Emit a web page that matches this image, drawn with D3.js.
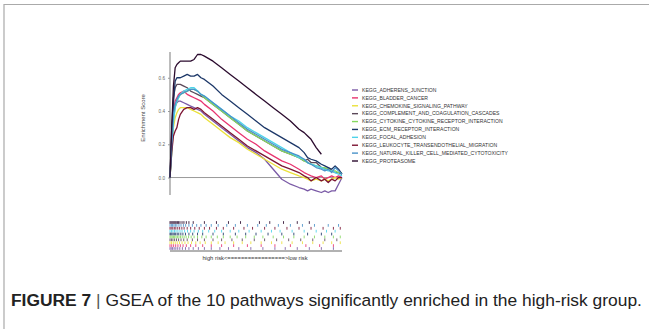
<!DOCTYPE html>
<html>
<head>
<meta charset="utf-8">
<script src="https://cdn.jsdelivr.net/npm/d3@7"></script>
<style>
  html, body { margin: 0; padding: 0; background: #fff; }
  svg { display: block; font-family: "Liberation Sans", Arial, sans-serif; }
</style>
</head>
<body>
<svg id="chart" width="649" height="329"></svg>
<script>
// gene rank positions (0 = top of ranked list, 100 = bottom)
const ranks = [0,1,2,3,4,5,6,8,10,12,14,16,18,20,25,30,35,40,45,50,55,60,65,70,75,78,80,82,85,88,90,92,94,96,98,100];

const pathways = [
  "KEGG_ADHERENS_JUNCTION",
  "KEGG_BLADDER_CANCER",
  "KEGG_CHEMOKINE_SIGNALING_PATHWAY",
  "KEGG_COMPLEMENT_AND_COAGULATION_CASCADES",
  "KEGG_CYTOKINE_CYTOKINE_RECEPTOR_INTERACTION",
  "KEGG_ECM_RECEPTOR_INTERACTION",
  "KEGG_FOCAL_ADHESION",
  "KEGG_LEUKOCYTE_TRANSENDOTHELIAL_MIGRATION",
  "KEGG_NATURAL_KILLER_CELL_MEDIATED_CYTOTOXICITY",
  "KEGG_PROTEASOME"
];
const colors = ["#7a5aa6","#e8336f","#ebe13a","#5b4858","#86d95f","#1c3768","#4dd3ea","#7c1433","#4a92c9","#2b0b2e"];

// running enrichment scores, one value per rank
const adherensES   = [0,0.2,0.38,0.43,0.45,0.46,0.46,0.45,0.44,0.43,0.42,0.41,0.4,0.38,0.34,0.3,0.26,0.22,0.18,0.15,0.11,0.05,-0.01,-0.04,-0.06,-0.07,-0.08,-0.07,-0.08,-0.09,-0.08,-0.09,-0.08,-0.08,-0.04,0.0];
const bladderES    = [0,0.2,0.4,0.46,0.48,0.5,0.51,0.52,0.5,0.49,0.48,0.47,0.46,0.44,0.4,0.35,0.31,0.27,0.23,0.2,0.16,0.13,0.1,0.08,0.05,0.03,0.02,0.01,0.0,0.01,-0.01,0.0,0.01,0.0,0.01,0.0];
const chemokineES  = [0,0.15,0.3,0.36,0.39,0.41,0.42,0.42,0.42,0.41,0.4,0.39,0.38,0.36,0.32,0.28,0.24,0.21,0.17,0.14,0.11,0.08,0.05,0.03,0.01,0.0,-0.01,-0.02,-0.01,-0.02,-0.01,-0.02,-0.01,0.0,-0.01,0.0];
const complementES = [0,0.3,0.48,0.54,0.56,0.56,0.56,0.55,0.54,0.52,0.51,0.5,0.49,0.48,0.44,0.4,0.36,0.32,0.28,0.25,0.22,0.19,0.16,0.14,0.12,0.1,0.11,0.09,0.09,0.06,0.05,0.06,0.04,0.03,0.03,0.02];
const cytokineES   = [0,0.2,0.35,0.42,0.46,0.48,0.5,0.51,0.52,0.53,0.53,0.52,0.5,0.48,0.44,0.4,0.36,0.32,0.28,0.25,0.22,0.19,0.16,0.14,0.12,0.1,0.09,0.08,0.07,0.06,0.06,0.05,0.04,0.04,0.03,0.03];
const ecmES        = [0,0.25,0.45,0.58,0.6,0.6,0.6,0.61,0.62,0.61,0.61,0.62,0.6,0.59,0.55,0.5,0.46,0.42,0.38,0.34,0.3,0.27,0.24,0.21,0.18,0.15,0.12,0.11,0.1,0.08,0.07,0.06,0.05,0.07,0.05,0.02];
const focalES      = [0,0.15,0.33,0.42,0.46,0.48,0.5,0.52,0.53,0.54,0.54,0.52,0.5,0.49,0.45,0.41,0.37,0.34,0.3,0.27,0.24,0.21,0.18,0.15,0.12,0.11,0.09,0.08,0.07,0.06,0.05,0.04,0.04,0.03,0.02,0.01];
const leukocyteES  = [0,0.15,0.25,0.28,0.3,0.35,0.38,0.41,0.42,0.42,0.41,0.42,0.41,0.39,0.35,0.31,0.27,0.23,0.19,0.16,0.13,0.1,0.07,0.05,0.03,0.01,0.0,-0.02,0.0,-0.02,-0.01,-0.03,-0.01,-0.02,0.0,0.0];
const nkES         = [0,0.2,0.38,0.44,0.47,0.49,0.5,0.51,0.52,0.53,0.53,0.52,0.5,0.49,0.45,0.41,0.37,0.33,0.29,0.26,0.23,0.2,0.17,0.15,0.13,0.11,0.09,0.08,0.06,0.05,0.04,0.05,0.03,0.06,0.04,0.02];
const proteasomeES = [0,0.3,0.55,0.66,0.68,0.69,0.7,0.7,0.7,0.7,0.71,0.74,0.74,0.73,0.7,0.66,0.62,0.58,0.54,0.5,0.46,0.42,0.38,0.34,0.29,0.27,0.25,0.23,0.18,0.14,null,null,null,null,null,null];

const esSeries = [adherensES, bladderES, chemokineES, complementES, cytokineES, ecmES, focalES, leukocyteES, nkES, proteasomeES];

// hit positions of each gene set along the ranked list
const adherensHits   = [0,0.7,1.5,2.4,3.4,4.5,5.7,7.2,9,11,13.5,16.5,20,24,29,34,40,47,54,61,67,74,81,88,95];
const bladderHits    = [0,1,2.1,3.3,4.6,6,7.6,9.5,12,15,19,24,30,37,45,53,61,70,79,87,95];
const chemokineHits  = [0,0.9,1.9,3,4.2,5.5,7,8.7,10.5,12.5,15,17.5,20.5,24,28,32,37,42,47,53,59,65,71,77,83,89,94,99];
const complementHits = [0,0.8,1.7,2.7,3.8,5,6.4,8,10,13,16,20,25,30,36,42,49,55,62,69,76,83,90,97];
const cytokineHits   = [0,0.6,1.3,2,2.7,3.5,4.3,5.2,6.1,7.1,8.2,9.4,10.8,12.3,14,16,18.5,21,24,27.5,31,35,39,44,49,54,60,66,72,78,84,90,95,99];
const ecmHits        = [0,0.5,1.1,1.8,2.5,3.3,4.2,5.1,6.3,7.5,9,11,13.2,16,19,25,31,38,44,50,57,65,72,80,88,94];
const focalHits      = [0,0.9,1.7,2.6,3.5,4.6,5.8,7,8.5,10.2,12,14,16.5,19,22.5,26,30,35,40,46,53,59,64,71,78,85,91,96];
const leukocyteHits  = [0,0.7,1.6,2.5,3.4,4.5,5.6,6.9,8.2,10,12,14.4,17,20,23,27,31,37,43,48,55,61,68,75,82,89,95,99];
const nkHits         = [0,0.8,1.5,2.3,3.1,4,5.2,6.4,7.8,9.1,11,13,15.5,18,21,24,28,33,38,45,51,56,63,70,77,84,92,98];
const proteasomeHits = [0,0.6,1.2,1.8,2.4,3,3.6,4.3,5,5.8,7,8.1,9.5,11,13.5,20,27,34,41,52,58,66,74,81];

const hitSeries = [adherensHits, bladderHits, chemokineHits, complementHits, cytokineHits, ecmHits, focalHits, leukocyteHits, nkHits, proteasomeHits];

const yTicks = [0, 0.2, 0.4, 0.6];

const svg = d3.select("#chart");

// figure frame
svg.append("path")
  .attr("d", "M4,329V4.5H649")
  .attr("fill", "none")
  .attr("stroke", "#aaa")
  .attr("stroke-width", 1.2);

const x = d3.scaleLinear().domain([0, 100]).range([170, 342]);
const y = d3.scaleLinear().domain([-0.105, 0.755]).range([195, 52]);

// y axis
const yAxis = d3.axisLeft(y).tickValues(yTicks).tickFormat(d3.format(".1f")).tickSize(2).tickPadding(3);
const gy = svg.append("g").attr("transform", "translate(170,0)").call(yAxis);
gy.select(".domain").attr("stroke", "#999").attr("stroke-width", 1.3).attr("d", "M0,52V195");
gy.selectAll(".tick line").attr("stroke", "#999");
gy.selectAll(".tick text").attr("font-family", "Liberation Sans").attr("font-size", 4.6).attr("fill", "#666");

svg.append("text")
  .attr("transform", "translate(145,118) rotate(-90)")
  .attr("text-anchor", "middle")
  .attr("font-size", 6)
  .attr("fill", "#444")
  .text("Enrichment Score");

// zero line
svg.append("line")
  .attr("x1", x(0)).attr("x2", x(100))
  .attr("y1", y(0)).attr("y2", y(0))
  .attr("stroke", "#999").attr("stroke-width", 1);

// curves
const line = d3.line()
  .defined(d => d[1] !== null)
  .x(d => x(d[0]))
  .y(d => y(d[1]));

svg.append("g")
  .selectAll("path")
  .data(esSeries)
  .join("path")
  .attr("d", s => line(ranks.map((r, i) => [r, s[i]])))
  .attr("fill", "none")
  .attr("stroke", (s, i) => colors[i])
  .attr("stroke-width", 1.3)
  .attr("stroke-linejoin", "round");

// legend
const legend = svg.append("g");
const ly = d3.scaleLinear().domain([0, 9]).range([90, 161]);
pathways.forEach((p, i) => {
  legend.append("line")
    .attr("x1", 352).attr("x2", 358)
    .attr("y1", ly(i)).attr("y2", ly(i))
    .attr("stroke", colors[i]).attr("stroke-width", 1.4);
  legend.append("text")
    .attr("x", 362).attr("y", ly(i))
    .attr("dy", "0.35em")
    .attr("font-size", 5.1)
    .attr("fill", "#333")
    .text(p);
});

// rug of hits, proteasome row on top
const rowOrder = [9, 8, 7, 6, 5, 4, 3, 2, 1, 0];
const rowY = d3.scaleBand().domain(rowOrder).range([221, 250]).padding(0.05);
const rug = svg.append("g");
rowOrder.forEach(k => {
  rug.selectAll(null)
    .data(hitSeries[k])
    .join("line")
    .attr("x1", d => x(d)).attr("x2", d => x(d))
    .attr("y1", rowY(k)).attr("y2", rowY(k) + rowY.bandwidth())
    .attr("stroke", colors[k])
    .attr("stroke-width", 1)
    .attr("opacity", 0.85);
});

svg.append("line")
  .attr("x1", x(0)).attr("x2", x(100))
  .attr("y1", 251).attr("y2", 251)
  .attr("stroke", "#999").attr("stroke-width", 1.3);

svg.append("text")
  .attr("x", 255).attr("y", 257.5)
  .attr("text-anchor", "middle")
  .attr("dy", "0.35em")
  .attr("font-size", 5.8)
  .attr("fill", "#333")
  .text("high risk<=================>low risk");

// caption
const cap = svg.append("text")
  .attr("x", 11).attr("y", 306)
  .attr("font-size", 17.4)
  .attr("fill", "#222");
cap.append("tspan").attr("font-weight", "bold").text("FIGURE 7");
cap.append("tspan").attr("fill", "#555").attr("font-weight", 300).text(" | ");
cap.append("tspan").text("GSEA of the 10 pathways significantly enriched in the high-risk group.");
</script>
</body>
</html>
